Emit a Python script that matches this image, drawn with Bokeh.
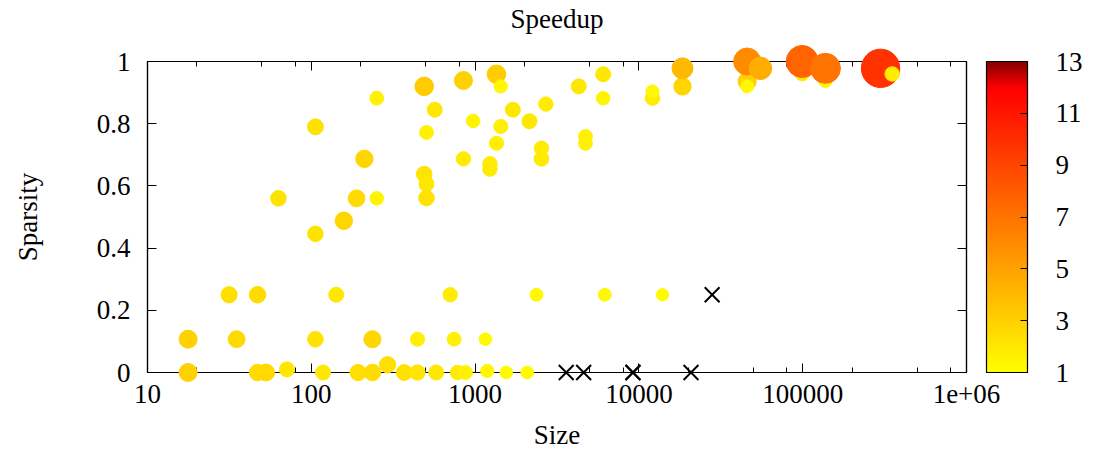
import numpy as np
from bokeh.plotting import figure
from bokeh.models import (ColumnDataSource, LinearColorMapper, ColorBar, FixedTicker,
                          LogAxis, LinearAxis, Range1d)
from bokeh.embed import file_html
from bokeh.resources import INLINE

FONT = "Liberation Serif"
FS = "27px"

# ---- data: matrix size, sparsity, speedup ----
size = [17.7, 47, 53, 71, 118, 193, 236, 292, 369, 445, 579, 781, 873, 1186, 1549, 2080,
        17.7, 35, 106, 236, 445, 745, 1157,
        31.5, 47, 142, 705, 2371, 6194, 13930,
        63, 106, 106, 158, 189, 211, 251, 251, 489, 489, 505, 505, 505, 567, 849, 849, 973,
        1232, 1232, 1351, 1351, 1435, 1435, 1700, 2147, 2541, 2541, 2705, 4296, 4722, 4722,
        6055, 6055, 12100, 12100, 18450, 18450, 45800, 45800, 45800, 55200,
        99300, 99300, 137600, 137600, 298700, 351800]
sparsity = [0, 0, 0, 0.01, 0, 0, 0, 0.025, 0, 0, 0, 0, 0, 0.005, 0, 0,
            0.107, 0.107, 0.107, 0.107, 0.107, 0.107, 0.107,
            0.25, 0.25, 0.25, 0.25, 0.25, 0.25, 0.25,
            0.56, 0.79, 0.446, 0.488, 0.56, 0.687, 0.882, 0.56, 0.92, 0.638, 0.606, 0.561, 0.772, 0.845, 0.939, 0.687, 0.809,
            0.654, 0.671, 0.959, 0.737, 0.92, 0.791, 0.845, 0.808, 0.687, 0.721, 0.863, 0.92, 0.737, 0.759,
            0.959, 0.882, 0.882, 0.904, 0.92, 0.978, 0.936, 0.92, 1.0, 0.978,
            0.962, 1.0, 0.938, 0.978, 0.978, 0.96]
speedup = [3.0, 2.5, 2.6, 2.0, 2.0, 2.4, 2.5, 2.4, 2.3, 2.1, 2.0, 1.8, 1.6, 1.4, 1.2, 1.2,
           3.0, 2.6, 2.2, 2.7, 1.7, 1.6, 1.2,
           2.4, 2.5, 2.0, 1.8, 1.3, 1.3, 1.1,
           2.2, 2.3, 2.2, 2.8, 2.6, 2.8, 1.6, 1.5, 3.2, 2.2, 2.0, 2.2, 1.6, 2.0, 3.0, 1.8, 1.5,
           1.8, 1.8, 3.2, 1.7, 1.4, 1.7, 2.0, 2.0, 1.9, 1.8, 1.8, 2.0, 1.6, 1.6,
           2.0, 1.5, 1.8, 1.3, 2.8, 4.0, 3.0, 1.3, 6.0, 4.5,
           2.0, 7.7, 1.5, 7.0, 9.8, 1.8]

# slower than baseline (speedup < 1), drawn as crosses
slow_size = [3600, 4600, 9200, 9200, 20800, 28000]
slow_sparsity = [0, 0, 0, 0, 0, 0.25]

title_text = "Speedup"
x_ticks = [10, 100, 1000, 10000, 100000, 1000000]
x_tick_labels = ["10", "100", "1000", "10000", "100000", "1e+06"]
y_ticks = [0, 0.2, 0.4, 0.6, 0.8, 1]
y_tick_labels = ["0", "0.2", "0.4", "0.6", "0.8", "1"]
cb_ticks = [1, 3, 5, 7, 9, 11, 13]
cb_low, cb_high = 1, 13

# ---- palette (yellow -> red -> dark red) ----
v = np.linspace(cb_low, cb_high, 256)
rr = np.interp(v, [1, 12, 13], [255, 255, 135])
gg = np.interp(v, [1, 12, 13], [255, 0, 0])
palette = ["#%02x%02x%02x" % (int(a), int(b), 0) for a, b in zip(rr, gg)]
mapper = LinearColorMapper(palette=palette, low=cb_low, high=cb_high)

x_minor = [m * 10 ** e for e in range(1, 6) for m in (2, 5, 8)]

src = ColumnDataSource(dict(size=size, sparsity=sparsity, speedup=speedup,
                            dia=[9 + 3 * s for s in speedup]))
slow = ColumnDataSource(dict(size=slow_size, sparsity=slow_sparsity))

FW, FH = 819, 311
p = figure(x_axis_type="log", x_range=Range1d(10, 1e6), y_range=Range1d(0, 1),
           frame_width=FW, frame_height=FH,
           min_border_left=147, min_border_right=131, min_border_top=60, min_border_bottom=81,
           output_backend="svg", toolbar_location=None,
           x_axis_label="Size", y_axis_label="Sparsity")
p.xgrid.visible = False
p.ygrid.visible = False
p.outline_line_color = "black"
p.outline_line_width = 1.2
p.background_fill_color = "white"
p.border_fill_color = "white"

bottom = p.below[0]
left = p.left[0]

xt = FixedTicker(ticks=x_ticks, minor_ticks=x_minor)
yt = FixedTicker(ticks=y_ticks, minor_ticks=[])

top = LogAxis(axis_label=title_text)
right = LinearAxis()
p.add_layout(top, "above")
p.add_layout(right, "right")

for ax, tk in ((bottom, xt), (top, xt), (left, yt), (right, yt)):
    ax.ticker = tk
    ax.axis_line_color = "black"
    ax.axis_line_width = 1.2
    ax.major_tick_in = 9
    ax.major_tick_out = 0
    ax.minor_tick_in = 5
    ax.minor_tick_out = 0
    ax.major_tick_line_color = "black"
    ax.minor_tick_line_color = "black"
    ax.major_label_text_font = FONT
    ax.major_label_text_font_size = FS
    ax.major_label_text_color = "black"
    ax.axis_label_text_font = FONT
    ax.axis_label_text_font_size = FS
    ax.axis_label_text_font_style = "normal"
    ax.axis_label_text_color = "black"

bottom.major_label_overrides = dict(zip(x_ticks, x_tick_labels))
left.major_label_overrides = dict(zip(y_ticks, y_tick_labels))
top.major_label_overrides = {t: "" for t in x_ticks}
right.major_label_overrides = {t: "" for t in y_ticks}
top.major_label_text_font_size = "1px"
right.major_label_text_font_size = "1px"
top.major_label_standoff = 0
right.major_label_standoff = 0
top.axis_label_standoff = 28

bottom.major_label_standoff = 12
bottom.axis_label_standoff = 14
left.major_label_standoff = 17
left.axis_label_standoff = 51

r1 = p.scatter("size", "sparsity", source=src, size="dia", marker="circle",
               fill_color={"field": "speedup", "transform": mapper},
               line_color={"field": "speedup", "transform": mapper}, line_width=1)
r2 = p.scatter("size", "sparsity", source=slow, size=21, marker="x",
               line_color="black", line_width=2)
r1.level = "overlay"
r2.level = "overlay"

cb = ColorBar(color_mapper=mapper, ticker=FixedTicker(ticks=cb_ticks),
              location=(839, 0), width=41, height=FH, padding=0, margin=0,
              major_tick_in=7, major_tick_out=0, major_tick_line_color="black",
              bar_line_color="black", bar_line_width=1.2,
              background_fill_color=None, border_line_color=None,
              major_label_text_font=FONT, major_label_text_font_size=FS,
              major_label_text_color="black", label_standoff=28)
p.add_layout(cb, "center")

open("out.html", "w").write(file_html(p, INLINE))
